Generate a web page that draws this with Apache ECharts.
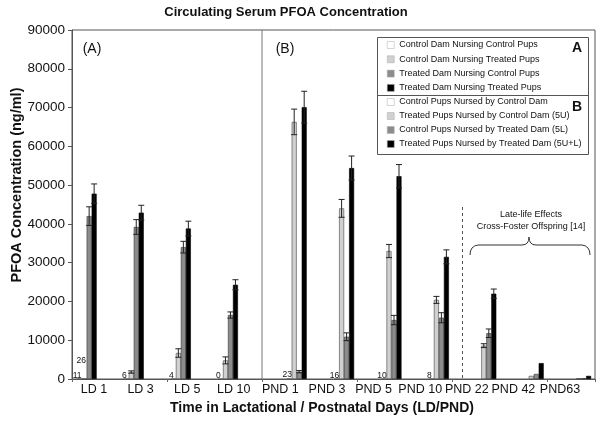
<!DOCTYPE html>
<html><head><meta charset="utf-8">
<script src="https://cdn.jsdelivr.net/npm/echarts@6/dist/echarts.min.js"></script>
<style>html,body{margin:0;padding:0;background:#fff}#c{width:602px;height:428px}</style>
</head><body><div id="c"></div>
<script>
// ---- data ----
const tickLabels = ['LD 1','LD 3','LD 5','LD 10','PND 1','PND 3','PND 5','PND 10','PND 22','PND 42','PND63'];
const catsA = ['LD 1','LD 3','LD 5','LD 10'];
const catsB = ['PND 1','PND 3','PND 5','PND 10','PND 22','PND 42','PND63'];
const namesA = ['Control Dam Nursing Control Pups','Control Dam Nursing Treated Pups','Treated Dam Nursing Control Pups','Treated Dam Nursing Treated Pups'];
const namesB = ['Control Pups Nursed by Control Dam','Treated Pups Nursed by Control Dam (5U)','Control Pups Nursed by Treated Dam (5L)','Treated Pups Nursed by Treated Dam (5U+L)'];

const aWhite = [11, 6, 4, 0];
const aLight = [26, 1800, 6700, 4800];
const aDark  = [42000, 39200, 34000, 16500];
const aBlack = [47800, 42900, 38800, 24300];
const aWhiteErr = [0, 0, 0, 0];
const aLightErr = [0, 300, 1100, 900];
const aDarkErr  = [2400, 1900, 1500, 800];
const aBlackErr = [2500, 1900, 1900, 1300];

const bWhite = [23, 16, 10, 8, null, null, null];
const bLight = [66300, 44000, 33000, 20400, 8600, 800, 200];
const bDark  = [1900, 10900, 15200, 15800, 11800, 1300, 200];
const bBlack = [70100, 54400, 52300, 31500, 22000, 4100, 800];
const bWhiteErr = [0, 0, 0, 0, 0, 0, 0];
const bLightErr = [3300, 2300, 1700, 900, 500, 0, 0];
const bDarkErr  = [300, 1000, 1200, 1300, 1100, 0, 0];
const bBlackErr = [4100, 3100, 3000, 1800, 1200, 0, 0];

const yMin = 0, yMax = 90000, yStep = 10000;

// ---- chart ----
const FONT = 'Liberation Sans, Arial, Helvetica, sans-serif';
const chart = echarts.init(document.getElementById('c'), null, {renderer: 'canvas', width: 602, height: 428});
const BW = 5;
const fills = ['#ffffff', '#d0d0d0', '#8c8c8c', '#000000'];
const borders = ['#555', '#444', '#333', '#000'];

function bar(name, data, g, k, label) {
  return {
    type: 'bar', name: name, xAxisIndex: g, yAxisIndex: g, data: data.map(v => v == null ? '-' : v),
    barWidth: BW, barGap: '0%', z: 2,
    itemStyle: {color: fills[k], borderColor: borders[k], borderWidth: 0.6},
    label: label || {show: false}
  };
}
function errs(vals, es, g, k) {
  const d = [];
  vals.forEach((v, i) => { if (v != null && es[i] > 0) d.push([i, v, es[i]]); });
  return {
    type: 'custom', xAxisIndex: g, yAxisIndex: g, z: 5, silent: true, data: d,
    renderItem: function (params, api) {
      const i = api.value(0), v = api.value(1), e = api.value(2);
      const t = api.coord([i, v + e]);
      const b = api.coord([i, v - e]);
      const x = t[0] + (k - 1.5) * BW;
      const st = {stroke: '#222', lineWidth: 1};
      return {type: 'group', children: [
        {type: 'line', shape: {x1: x, y1: t[1], x2: x, y2: b[1]}, style: st},
        {type: 'line', shape: {x1: x - 3, y1: t[1], x2: x + 3, y2: t[1]}, style: st},
        {type: 'line', shape: {x1: x - 3, y1: b[1], x2: x + 3, y2: b[1]}, style: st}
      ]};
    }
  };
}
const whiteLabel = {show: true, position: 'top', distance: 0, offset: [-2, 1], fontSize: 8.5, color: '#111', fontFamily: FONT, formatter: '{c}'};
const smallLabel = {show: true, position: 'top', distance: 13, offset: [-3, 0], fontSize: 8.5, color: '#111', fontFamily: FONT,
  formatter: p => (p.value < 100 ? String(p.value) : '')};

const yHidden = g => ({type: 'value', gridIndex: g, min: yMin, max: yMax, interval: yStep, show: false, splitLine: {show: false}});
const tStyle = (size, weight) => ({fontSize: size, fontWeight: weight || 'normal', fontFamily: FONT, fill: '#111'});
const ctr = {textAlign: 'center', textVerticalAlign: 'middle', align: 'center', verticalAlign: 'middle'};
const txt = (s, x, y, size, weight, extra) => Object.assign({type: 'text', x: x, y: y, z: 3,
  style: Object.assign({text: s}, ctr, tStyle(size, weight))}, extra || {});

const option = {
  backgroundColor: '#fff',
  animation: false,
  grid: [
    {left: 72, top: 30, width: 523, height: 349, show: true, borderColor: '#555', borderWidth: 1, containLabel: false, outerBoundsMode: 'none'},
    {left: 63.1, top: 30, width: 188.4, height: 349, containLabel: false, outerBoundsMode: 'none'},
    {left: 273, top: 30, width: 331.8, height: 349, containLabel: false, outerBoundsMode: 'none'},
    {left: 70.7, top: 30, width: 512.6, height: 349, containLabel: false, outerBoundsMode: 'none'}
  ],
  xAxis: [
    {type: 'category', gridIndex: 0, data: tickLabels, axisLine: {lineStyle: {color: '#555'}},
     axisTick: {show: true, length: 3, lineStyle: {color: '#666'}}, axisLabel: {show: false}},
    {type: 'category', gridIndex: 1, data: catsA, show: false},
    {type: 'category', gridIndex: 2, data: catsB, show: false},
    {type: 'category', gridIndex: 3, data: tickLabels, axisLine: {show: false}, axisTick: {show: false},
     axisLabel: {show: true, fontSize: 12.5, color: '#111', fontFamily: FONT, margin: 4, interval: 0}}
  ],
  yAxis: [
    {type: 'value', gridIndex: 0, min: yMin, max: yMax, interval: yStep,
     axisLine: {show: true, lineStyle: {color: '#555'}}, axisTick: {show: true, length: 4, lineStyle: {color: '#555'}},
     splitLine: {show: false}, axisLabel: {fontSize: 13.5, color: '#111', fontFamily: FONT, margin: 7, formatter: v => String(v)}},
    yHidden(1), yHidden(2), yHidden(3)
  ],
  legend: [
    {data: namesA, orient: 'vertical', left: 387, top: 39, itemWidth: 7, itemHeight: 7, itemGap: 2.3, padding: 0,
     selectedMode: false, icon: 'rect', itemStyle: {borderColor: '#aaa', borderWidth: 0.5},
     textStyle: {fontSize: 9, lineHeight: 12, color: '#111', fontFamily: FONT}},
    {data: namesB, orient: 'vertical', left: 387, top: 96, itemWidth: 7, itemHeight: 7, itemGap: 2, padding: 0,
     selectedMode: false, icon: 'rect', itemStyle: {borderColor: '#aaa', borderWidth: 0.5},
     textStyle: {fontSize: 9, lineHeight: 12, color: '#111', fontFamily: FONT}}
  ],
  series: [
    bar(namesA[0], aWhite, 1, 0, whiteLabel),
    bar(namesA[1], aLight, 1, 1, smallLabel),
    bar(namesA[2], aDark, 1, 2),
    bar(namesA[3], aBlack, 1, 3),
    bar(namesB[0], bWhite, 2, 0, whiteLabel),
    bar(namesB[1], bLight, 2, 1),
    bar(namesB[2], bDark, 2, 2),
    bar(namesB[3], bBlack, 2, 3),
    errs(aWhite, aWhiteErr, 1, 0), errs(aLight, aLightErr, 1, 1), errs(aDark, aDarkErr, 1, 2), errs(aBlack, aBlackErr, 1, 3),
    errs(bWhite, bWhiteErr, 2, 0), errs(bLight, bLightErr, 2, 1), errs(bDark, bDarkErr, 2, 2), errs(bBlack, bBlackErr, 2, 3)
  ],
  graphic: [
    txt('Circulating Serum PFOA Concentration', 286, 12, 13, 'bold'),
    txt('Time in Lactational / Postnatal Days (LD/PND)', 322, 408, 14, 'bold'),
    txt('PFOA Concentration (ng/ml)', 16.5, 185, 14.5, 'bold', {rotation: Math.PI / 2}),
    txt('(A)', 92, 49, 14),
    txt('(B)', 285, 49, 14),
    {type: 'line', z: 1, shape: {x1: 262, y1: 30, x2: 262, y2: 379}, style: {stroke: '#777', lineWidth: 1}},
    {type: 'line', z: 1, shape: {x1: 462.5, y1: 207, x2: 462.5, y2: 379}, style: {stroke: '#555', lineWidth: 1, lineDash: [3, 3]}},
    {type: 'rect', z: 1, shape: {x: 377.5, y: 37.5, width: 211, height: 117}, style: {fill: '#fff', stroke: '#555', lineWidth: 1}},
    {type: 'line', z: 2, shape: {x1: 377.5, y1: 95.5, x2: 588.5, y2: 95.5}, style: {stroke: '#555', lineWidth: 1}},
    txt('A', 577, 48, 14, 'bold'),
    txt('B', 577, 107, 14, 'bold'),
    txt('Late-life Effects', 531, 215, 9),
    txt('Cross-Foster Offspring [14]', 531, 227, 9),
    {type: 'bezierCurve', shape: {x1: 470, y1: 255, x2: 478, y2: 245, cpx1: 470, cpy1: 246}, style: {stroke: '#333', fill: null, lineWidth: 1}},
    {type: 'line', shape: {x1: 478, y1: 245, x2: 522, y2: 245}, style: {stroke: '#333', lineWidth: 1}},
    {type: 'bezierCurve', shape: {x1: 522, y1: 245, x2: 529, y2: 237, cpx1: 529, cpy1: 245}, style: {stroke: '#333', fill: null, lineWidth: 1}},
    {type: 'bezierCurve', shape: {x1: 529, y1: 237, x2: 536, y2: 245, cpx1: 529, cpy1: 245}, style: {stroke: '#333', fill: null, lineWidth: 1}},
    {type: 'line', shape: {x1: 536, y1: 245, x2: 582, y2: 245}, style: {stroke: '#333', lineWidth: 1}},
    {type: 'bezierCurve', shape: {x1: 582, y1: 245, x2: 590, y2: 255, cpx1: 590, cpy1: 246}, style: {stroke: '#333', fill: null, lineWidth: 1}}
  ]
};
chart.setOption(option);
</script>
</body></html>
